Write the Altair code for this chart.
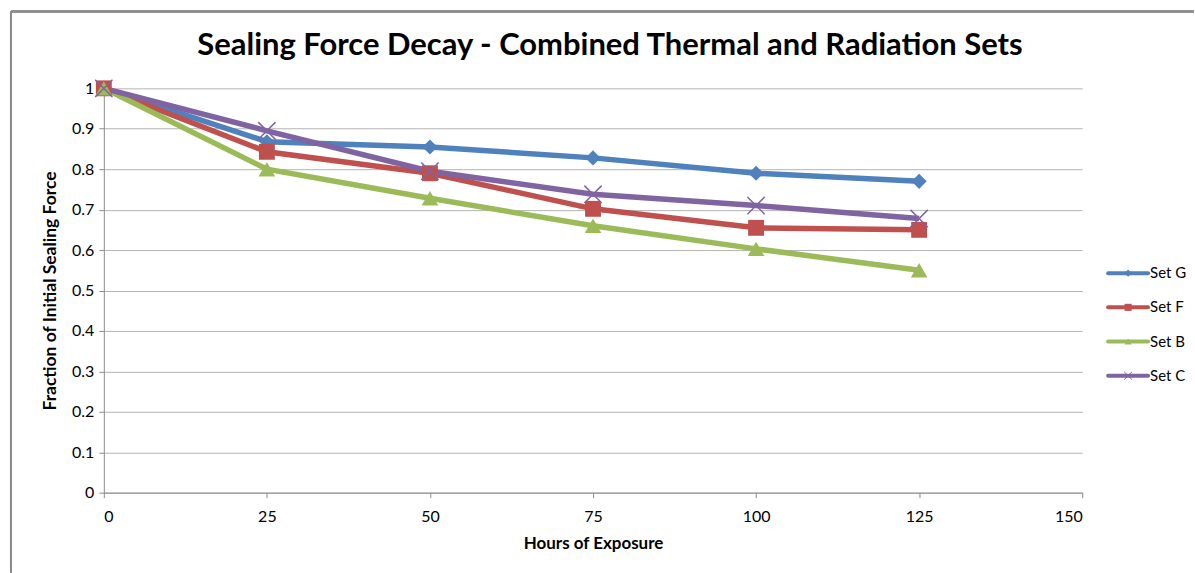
import altair as alt
import pandas as pd

hours = [0, 25, 50, 75, 100, 125]
series_names = ["Set G", "Set F", "Set B", "Set C"]
set_g = [1.0, 0.868, 0.855, 0.828, 0.790, 0.770]
set_f = [1.0, 0.843, 0.790, 0.702, 0.655, 0.650]
set_b = [1.0, 0.800, 0.728, 0.660, 0.603, 0.550]
set_c = [1.0, 0.895, 0.795, 0.738, 0.710, 0.678]
colors = ["#4F81BD", "#C0504D", "#9BBB59", "#8064A2"]
x_ticks = [0, 25, 50, 75, 100, 125, 150]
y_ticks = [0, 0.1, 0.2, 0.3, 0.4, 0.5, 0.6, 0.7, 0.8, 0.9, 1.0]

rows = []
for name, vals in zip(series_names, [set_g, set_f, set_b, set_c]):
    for h, v in zip(hours, vals):
        rows.append({"series": name, "hours": h, "value": v})
df = pd.DataFrame(rows)
leg_df = pd.DataFrame({"series": series_names})

FONT = "Lato"
XPATH = "M-1,-1L1,1M-1,1L1,-1"

color = alt.Color("series:N", scale=alt.Scale(domain=series_names, range=colors), legend=None)
shape = alt.Shape("series:N", scale=alt.Scale(domain=series_names,
                  range=["diamond", "square", "triangle-up", XPATH]), legend=None)
size = alt.Size("series:N", scale=alt.Scale(domain=series_names, range=[230, 300, 240, 280]), legend=None)

x = alt.X("hours:Q", title="Hours of Exposure",
          scale=alt.Scale(domain=[0, 150], nice=False),
          axis=alt.Axis(values=x_ticks, grid=False, tickSize=5, labelPadding=11,
                        titlePadding=11, labelFontSize=16, titleFontSize=17,
                        titleFontWeight="bold"))
y = alt.Y("value:Q", title="Fraction of Initial Sealing Force",
          scale=alt.Scale(domain=[0, 1], nice=False),
          axis=alt.Axis(values=y_ticks, grid=True, tickSize=5, labelPadding=5,
                        titlePadding=12, labelFontSize=16, titleFontSize=17.5,
                        titleFontWeight="bold", format="~g"))

base = alt.Chart(df)
lines = base.mark_line(strokeWidth=5.5).encode(x=x, y=y, color=color, detail="series:N")
pts = base.transform_filter(alt.datum.series != "Set C").mark_point(
    filled=True, opacity=1).encode(x=x, y=y, color=color, shape=shape, size=size)
pts_c = base.transform_filter(alt.datum.series == "Set C").mark_point(
    filled=False, opacity=1, strokeWidth=1.5).encode(x=x, y=y, color=color, shape=shape, size=size)
main = alt.layer(lines, pts, pts_c)

# legend drawn with its own ordinal y scale (point scale, default padding 0.5)
leg_y = alt.Y("series:N", sort=series_names,
              scale=alt.Scale(domain=series_names, range=[168, 305]), axis=None)
leg = alt.Chart(leg_df)
leg_rule = leg.mark_rule(strokeWidth=4, strokeCap="round").encode(
    x=alt.value(1006), x2=alt.value(1046), y=leg_y, color=color)
leg_pts = leg.transform_filter(alt.datum.series != "Set C").mark_point(
    filled=True, opacity=1).encode(x=alt.value(1026), y=leg_y, color=color, shape=shape,
                                   size=alt.value(50))
leg_pts_c = leg.transform_filter(alt.datum.series == "Set C").mark_point(
    filled=False, opacity=1, strokeWidth=1).encode(x=alt.value(1026), y=leg_y, color=color,
                                                   shape=shape, size=alt.value(60))
leg_text = leg.mark_text(align="left", baseline="middle", fontSize=15, font=FONT,
                         color="#000000").encode(x=alt.value(1048), y=leg_y, text="series:N")

# outer frame lines (top and left)
frame_top = leg.mark_rule(color="#8C8C8C", strokeWidth=2).encode(
    x=alt.value(-93), x2=alt.value(1092), y=alt.value(-77))
frame_left = leg.mark_rule(color="#8C8C8C", strokeWidth=2).encode(
    x=alt.value(-93), y=alt.value(-77), y2=alt.value(485))
legend_layer = alt.layer(leg_rule, leg_pts, leg_pts_c, leg_text, frame_top, frame_left)

chart = alt.layer(main, legend_layer).resolve_scale(y="independent").properties(
    width=980, height=405,
    background="white",
    title=alt.TitleParams("Sealing Force Decay  - Combined Thermal and Radiation Sets",
                          fontSize=31, font=FONT, fontWeight="bold", anchor="middle",
                          frame="group", dx=17, offset=-52, color="#000000"),
    padding={"left": 10, "top": 10, "right": 0, "bottom": 0},
).configure_view(stroke=None).configure_axis(
    domainColor="#8C8C8C", tickColor="#8C8C8C", gridColor="#B4B4B4",
    labelFont=FONT, titleFont=FONT, labelColor="#000000", titleColor="#000000"
)

chart.save("out.html", embed_options={"renderer": "svg", "actions": False})
